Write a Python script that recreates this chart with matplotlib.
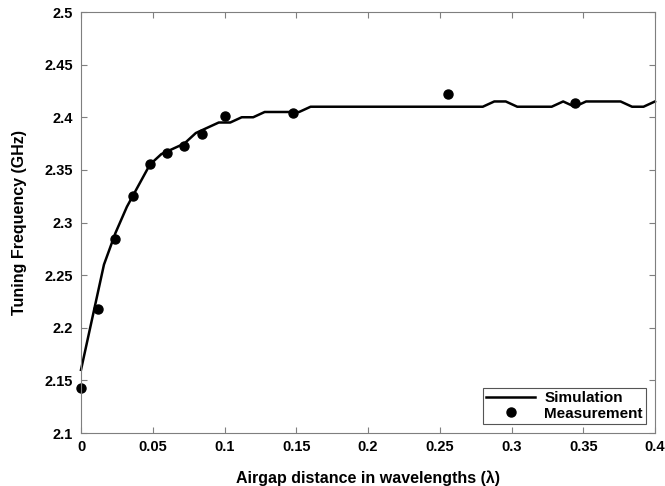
import numpy as np
import matplotlib
matplotlib.use("Agg")
import matplotlib.pyplot as plt

plt.rcParams["font.family"] = ["Liberation Sans", "DejaVu Sans"]
plt.rcParams["font.weight"] = "bold"

# simulation, sampled every 0.008 wavelengths
sim_x = np.arange(51) * 0.008
sim_y = [2.160, 2.210, 2.260, 2.290, 2.315, 2.335, 2.355, 2.365, 2.370, 2.375,
         2.385, 2.390, 2.395, 2.395, 2.400, 2.400, 2.405, 2.405, 2.405, 2.405,
         2.410, 2.410, 2.410, 2.410, 2.410, 2.410, 2.410, 2.410, 2.410, 2.410,
         2.410, 2.410, 2.410, 2.410, 2.410, 2.410, 2.415, 2.415, 2.410, 2.410,
         2.410, 2.410, 2.415, 2.410, 2.415, 2.415, 2.415, 2.415, 2.410, 2.410,
         2.415]

meas_x = [0, 0.012, 0.024, 0.036, 0.048, 0.060, 0.072, 0.084, 0.100, 0.148, 0.256, 0.344]
meas_y = [2.143, 2.218, 2.284, 2.325, 2.356, 2.366, 2.373, 2.384, 2.401, 2.404, 2.422, 2.414]

fig = plt.figure(figsize=(6.65, 4.86), dpi=100)
ax = fig.add_axes([81 / 665, 53 / 486, 574 / 665, 421 / 486])

ax.plot(sim_x, sim_y, c="black", lw=1.8, label="Simulation", clip_on=False)
ax.plot(meas_x, meas_y, "o", c="black", ms=6.5, label="Measurement", clip_on=False)

ax.set_xlim(0, 0.4)
ax.set_ylim(2.1, 2.5)
ax.set_xticks(np.arange(0, 0.41, 0.05))
ax.set_yticks(np.arange(2.1, 2.51, 0.05))
ax.set_xticklabels(["0", "0.05", "0.1", "0.15", "0.2", "0.25", "0.3", "0.35", "0.4"])
ax.set_yticklabels(["2.1", "2.15", "2.2", "2.25", "2.3", "2.35", "2.4", "2.45", "2.5"])

for s in ax.spines.values():
    s.set_color("#7f7f7f")
ax.tick_params(direction="in", top=True, right=True, length=4, color="#7f7f7f",
               labelsize=10.5)
ax.tick_params(axis="x", pad=5)
ax.tick_params(axis="y", pad=6)

ax.set_xlabel("Airgap distance in wavelengths (λ)", fontsize=11.5, fontweight="bold", labelpad=12)
ax.set_ylabel("Tuning Frequency (GHz)", fontsize=11.5, fontweight="bold", labelpad=12)

leg = ax.legend(loc="lower right", fontsize=11, fancybox=False, framealpha=1,
                edgecolor="#555555", borderaxespad=0.6, handlelength=3.2,
                borderpad=0.2, labelspacing=0.1, handletextpad=0.6)
leg.get_frame().set_linewidth(0.8)

fig.savefig("out.png", dpi=100)
